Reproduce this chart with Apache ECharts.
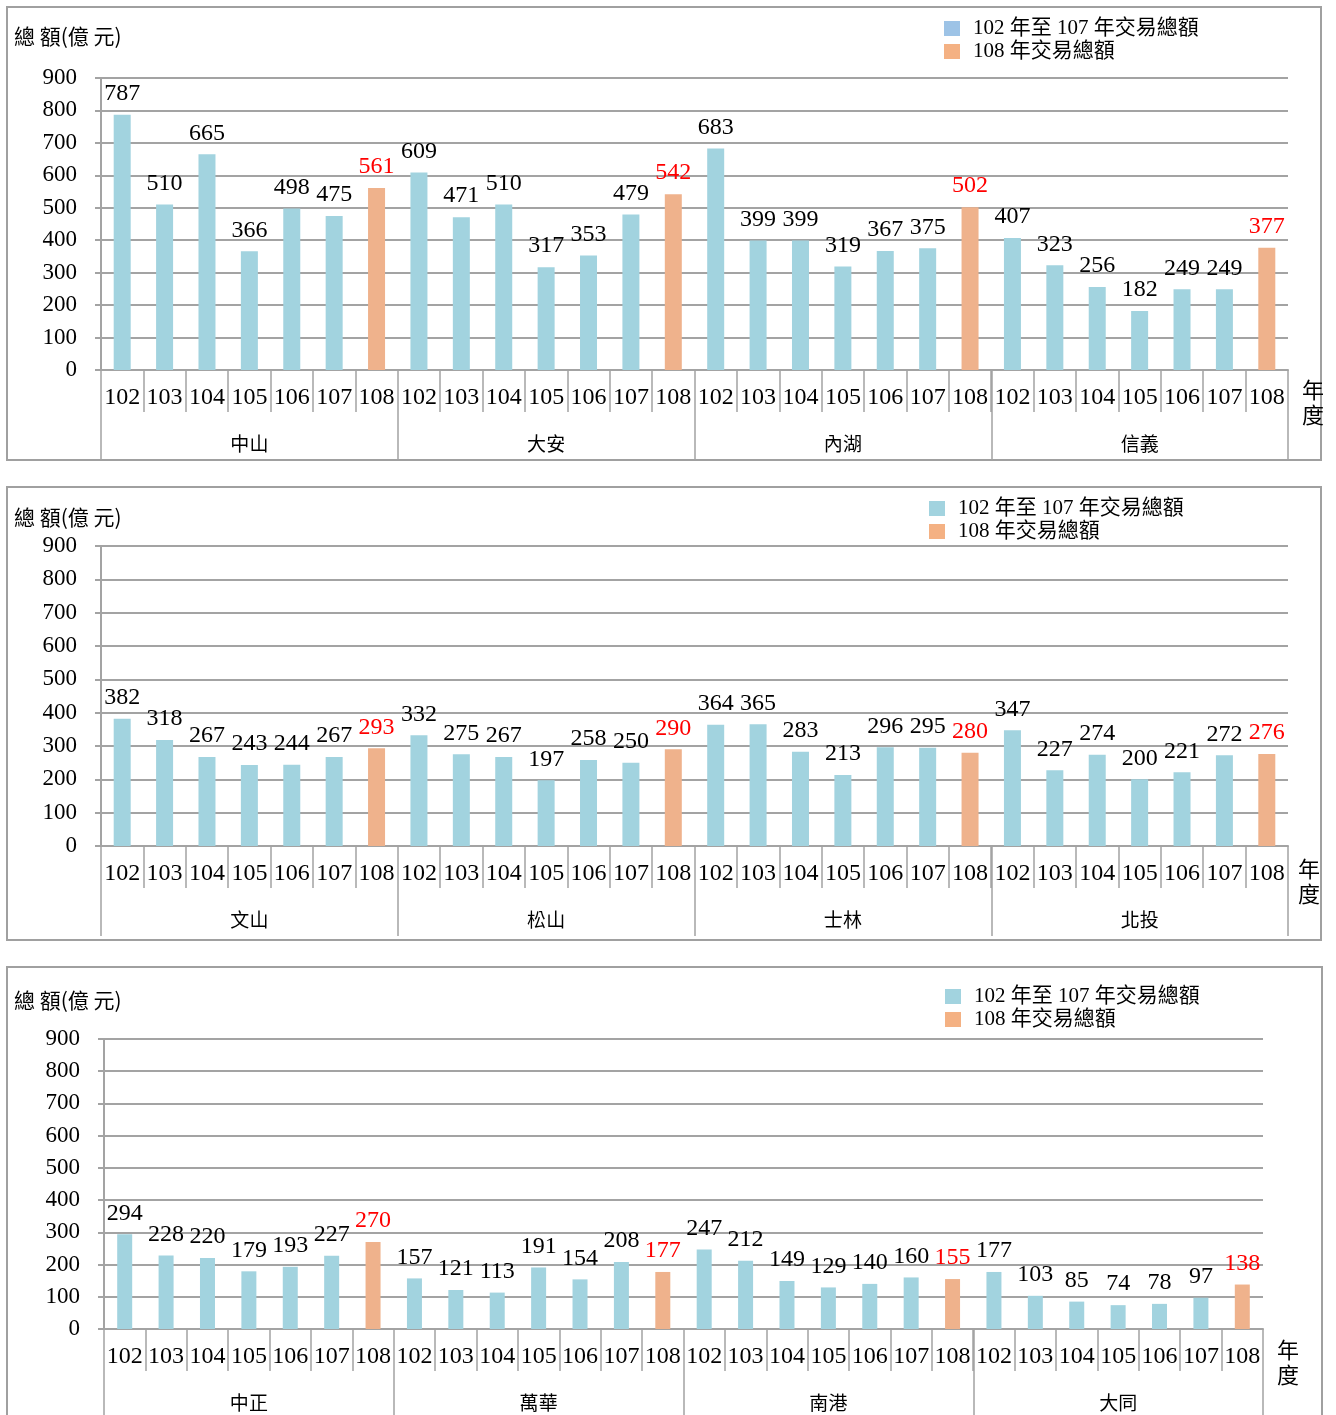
<!DOCTYPE html>
<html>
<head>
<meta charset="utf-8">
<script src="https://cdn.jsdelivr.net/npm/echarts@6/dist/echarts.min.js"></script>
<style>
html,body{margin:0;padding:0;background:#fff;}
#c{width:1336px;height:1415px;}
</style>
</head>
<body>
<div id="c"></div>
<script>
// ---- data ----
const years = ['102', '103', '104', '105', '106', '107', '108'];
const yTicks = [0, 100, 200, 300, 400, 500, 600, 700, 800, 900];
const seriesNames = ['102 年至 107 年交易總額', '108 年交易總額'];

const districts1 = ['中山', '大安', '內湖', '信義'];
const zhongshan = [787, 510, 665, 366, 498, 475, 561];
const daan = [609, 471, 510, 317, 353, 479, 542];
const neihu = [683, 399, 399, 319, 367, 375, 502];
const xinyi = [407, 323, 256, 182, 249, 249, 377];

const districts2 = ['文山', '松山', '士林', '北投'];
const wenshan = [382, 318, 267, 243, 244, 267, 293];
const songshan = [332, 275, 267, 197, 258, 250, 290];
const shilin = [364, 365, 283, 213, 296, 295, 280];
const beitou = [347, 227, 274, 200, 221, 272, 276];

const districts3 = ['中正', '萬華', '南港', '大同'];
const zhongzheng = [294, 228, 220, 179, 193, 227, 270];
const wanhua = [157, 121, 113, 191, 154, 208, 177];
const nangang = [247, 212, 149, 129, 140, 160, 155];
const datong = [177, 103, 85, 74, 78, 97, 138];

// ---- styling / layout ----
const SERIF = "'Liberation Serif','Times New Roman','Noto Sans CJK TC',serif";
const CJK = "'Noto Sans CJK TC','Liberation Serif',serif";
const BLUE = '#A2D3DF';
const ORANGE = '#EFB28C';
const GRID = '#a3a3a3';

const panels = [
  {districts: districts1, values: [zhongshan, daan, neihu, xinyi],
   box: [7, 7, 1314, 453], grid: {left: 101, top: 78, width: 1187, height: 292},
   title: [14, 26], legend: [941, 13], legendBlue: '#9DC3E6', nianDu: [1302, 377], barW: 17},
  {districts: districts2, values: [wenshan, songshan, shilin, beitou],
   box: [7, 487, 1314, 453], grid: {left: 101, top: 546, width: 1187, height: 300},
   title: [14, 507], legend: [926, 493], legendBlue: BLUE, nianDu: [1298, 856], barW: 17},
  {districts: districts3, values: [zhongzheng, wanhua, nangang, datong],
   box: [7, 967, 1315, 470], grid: {left: 104, top: 1039, width: 1159, height: 290},
   title: [14, 990], legend: [942, 981], legendBlue: BLUE, nianDu: [1277, 1337], barW: 15}
];

const option = {
  animation: false,
  backgroundColor: '#fff',
  grid: [], xAxis: [], yAxis: [], series: [], legend: [], title: [],
  graphic: []
};

panels.forEach((p, i) => {
  option.graphic.push({
    type: 'rect', z: -10,
    shape: {x: p.box[0], y: p.box[1], width: p.box[2], height: p.box[3]},
    style: {fill: 'none', stroke: '#a0a0a0', lineWidth: 2}
  });
  option.grid.push(Object.assign({containLabel: false}, p.grid));

  const cats = [];
  const blue = [];
  const orange = [];
  p.districts.forEach((d, di) => {
    years.forEach((y, yi) => {
      cats.push(d + '-' + y);
      const v = p.values[di][yi];
      if (yi === years.length - 1) { blue.push(null); orange.push(v); }
      else { blue.push(v); orange.push(null); }
    });
  });

  // year axis
  option.xAxis.push({
    type: 'category', gridIndex: i, data: cats, position: 'bottom',
    axisLine: {show: true, lineStyle: {color: GRID, width: 2}},
    axisTick: {show: true, length: 42, interval: 0, lineStyle: {color: GRID, width: 1.5}},
    axisLabel: {interval: 0, margin: 16, fontFamily: SERIF, fontSize: 24, color: '#000',
      formatter: v => v.split('-')[1]},
    splitLine: {show: false}
  });
  // district axis
  option.xAxis.push({
    type: 'category', gridIndex: i, data: p.districts, position: 'bottom',
    axisLine: {show: false},
    axisTick: {show: true, length: (i === 2 ? 100 : 90), interval: 0, lineStyle: {color: GRID, width: 1.5}},
    axisLabel: {interval: 0, margin: 64, fontFamily: CJK, fontSize: 19, color: '#000'},
    splitLine: {show: false}
  });
  option.yAxis.push({
    type: 'value', gridIndex: i, min: yTicks[0], max: yTicks[yTicks.length - 1], interval: 100,
    axisLine: {show: true, lineStyle: {color: GRID, width: 2}},
    axisTick: {show: true, length: 6, lineStyle: {color: GRID, width: 2}},
    axisLabel: {margin: 24, fontFamily: SERIF, fontSize: 23, color: '#000'},
    splitLine: {show: true, lineStyle: {color: GRID, width: 2}}
  });

  option.series.push({
    name: seriesNames[0], type: 'bar', xAxisIndex: i * 2, yAxisIndex: i,
    data: blue, barWidth: p.barW, barGap: '-100%',
    itemStyle: {color: BLUE},
    label: {show: true, position: 'top', distance: 9, fontFamily: SERIF, fontSize: 24, color: '#000'}
  });
  option.series.push({
    name: seriesNames[1], type: 'bar', xAxisIndex: i * 2, yAxisIndex: i,
    data: orange, barWidth: p.barW, barGap: '-100%',
    itemStyle: {color: ORANGE},
    label: {show: true, position: 'top', distance: 9, fontFamily: SERIF, fontSize: 24, color: '#ff0000'}
  });

  option.legend.push({
    orient: 'vertical', left: p.legend[0] - 2, top: p.legend[1],
    itemWidth: 16, itemHeight: 15, itemGap: 2, icon: 'rect',
    selectedMode: false,
    textStyle: {fontFamily: SERIF, fontSize: 21, color: '#000', padding: [0, 0, 0, 8]},
    data: [
      {name: seriesNames[0], itemStyle: {color: p.legendBlue}},
      {name: seriesNames[1], itemStyle: {color: '#F4B183'}}
    ]
  });

  option.title.push({
    text: '總 額(億 元)', left: p.title[0], top: p.title[1], padding: 0,
    textStyle: {fontFamily: CJK, fontSize: 21, fontWeight: 'normal', color: '#000'}
  });
  option.title.push({
    text: '年\n度', left: p.nianDu[0], top: p.nianDu[1], padding: 0,
    textStyle: {fontFamily: CJK, fontSize: 22, fontWeight: 'normal', color: '#000', lineHeight: 25}
  });
});

const chart = echarts.init(document.getElementById('c'), null, {renderer: 'canvas'});
chart.setOption(option);
</script>
</body>
</html>
